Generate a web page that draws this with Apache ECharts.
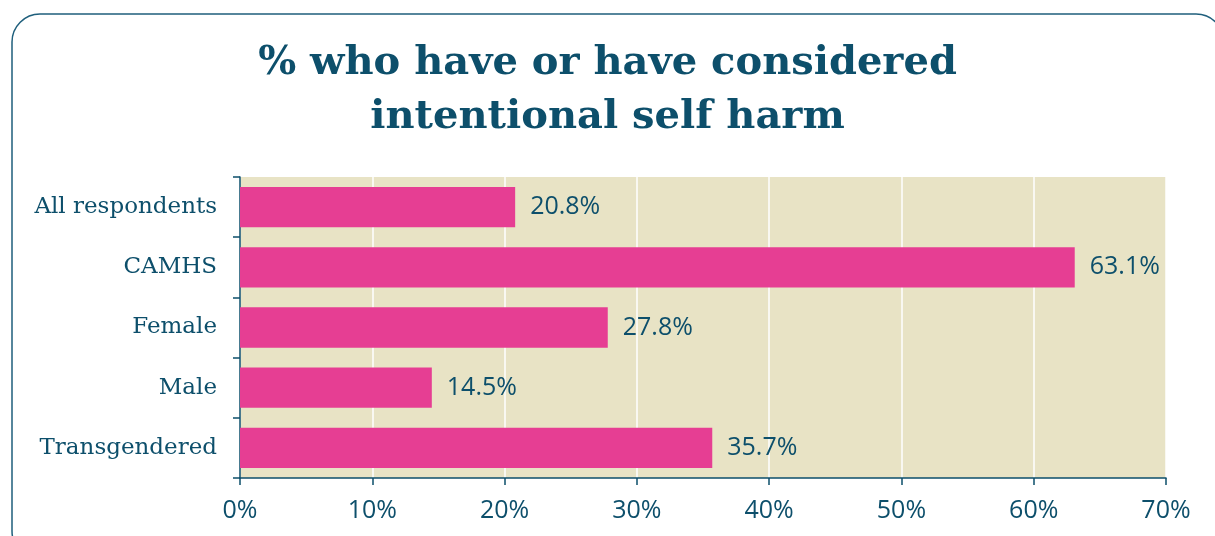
<!DOCTYPE html>
<html><head><meta charset="utf-8">
<script src="https://cdn.jsdelivr.net/npm/echarts@6/dist/echarts.min.js"></script>
<style>html,body{margin:0;padding:0;background:#fff}#c{width:1215px;height:536px}</style>
</head><body><div id="c"></div>
<script>
const categories = ["All respondents", "CAMHS", "Female", "Male", "Transgendered"];
const values = [20.8, 63.1, 27.8, 14.5, 35.7];
const xTicks = [0, 10, 20, 30, 40, 50, 60, 70];
const titleLines = ["% who have or have considered", "intentional self harm"];

const teal = '#0d4f6b';
const chart = echarts.init(document.getElementById('c'), null, {renderer: 'canvas'});
chart.setOption({
  animation: false,
  title: {
    text: titleLines.join('\n'),
    left: 'center', top: 32,
    textStyle: {fontFamily: 'DejaVu Serif', fontWeight: 'bold', fontSize: 40, color: teal, lineHeight: 54}
  },
  graphic: [{
    type: 'rect', shape: {x: 12, y: 14, width: 1212, height: 545, r: 28},
    style: {fill: 'none', stroke: '#1f5f7c', lineWidth: 1.5}, z: -10
  }],
  grid: {left: 240, right: 49, top: 177, bottom: 58, show: true, backgroundColor: '#e8e3c5', borderWidth: 0},
  xAxis: {
    type: 'value', min: 0, max: 70, interval: 10,
    axisLine: {show: true, lineStyle: {color: teal, width: 1.5}},
    axisTick: {show: true, length: 7, lineStyle: {color: teal, width: 1.5}},
    splitLine: {show: true, lineStyle: {color: '#ffffff', width: 1.5}},
    axisLabel: {formatter: v => xTicks.includes(v) ? v + '%' : '', fontFamily: 'Open Sans', fontSize: 25, color: teal, margin: 20}
  },
  yAxis: {
    type: 'category', data: categories, inverse: true,
    axisLine: {show: true, lineStyle: {color: teal, width: 1.5}},
    axisTick: {show: true, length: 7, alignWithLabel: false, lineStyle: {color: teal, width: 1.5}},
    axisLabel: {fontFamily: 'DejaVu Serif', fontSize: 23, color: teal, margin: 23}
  },
  series: [{
    type: 'bar', data: values, barCategoryGap: '33%',
    itemStyle: {color: '#e63e93'},
    label: {show: true, position: 'right', distance: 15, formatter: p => p.value.toFixed(1) + '%', fontFamily: 'Open Sans', fontSize: 25, color: teal}
  }]
});
</script></body></html>
